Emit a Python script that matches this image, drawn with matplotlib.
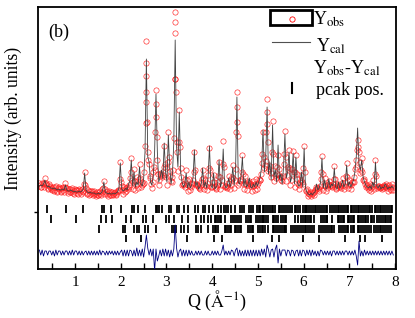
import numpy as np
import matplotlib
matplotlib.use("Agg")
import matplotlib.pyplot as plt
from matplotlib.patches import Rectangle

plt.rcParams['font.family'] = ['Liberation Serif', 'DejaVu Serif']
plt.rcParams['mathtext.fontset'] = 'stix'

# Q grid of the pattern (constant step)
q_start = 0.22
q_step = 0.03

# calculated profile, one row per 0.3 A^-1
y_cal = [
  26, 27, 26, 28, 32, 27, 25, 26, 24, 24,
  23, 24, 23, 22, 23, 22, 22, 23, 22, 27,
  22, 21, 21, 22, 21, 20, 21, 20, 20, 21,
  20, 21, 23, 39, 22, 20, 19, 20, 19, 19,
  19, 18, 18, 19, 18, 19, 21, 30, 20, 19,
  18, 19, 18, 18, 19, 18, 19, 20, 24, 49,
  23, 21, 22, 24, 22, 28, 31, 52, 26, 40,
  25, 30, 27, 45, 28, 26, 33, 60, 153, 55,
  50, 30, 27, 36, 60, 118, 60, 30, 35, 42,
  33, 69, 40, 30, 77, 45, 28, 38, 70, 172,
  65, 45, 100, 40, 30, 25, 28, 39, 24, 30,
  24, 27, 34, 62, 26, 30, 23, 25, 28, 44,
  25, 30, 24, 35, 66, 27, 24, 39, 23, 25,
  28, 52, 25, 30, 63, 28, 24, 26, 34, 25,
  30, 45, 27, 40, 115, 30, 28, 36, 55, 26,
  33, 25, 27, 34, 25, 24, 28, 25, 30, 26,
  30, 35, 45, 82, 40, 55, 105, 38, 50, 32,
  87, 35, 42, 30, 67, 33, 38, 28, 45, 78,
  34, 40, 60, 30, 35, 59, 28, 55, 30, 26,
  27, 40, 25, 64, 24, 20, 18, 17, 19, 17,
  19, 20, 28, 22, 24, 30, 54, 24, 32, 23,
  25, 33, 24, 28, 26, 44, 25, 23, 30, 24,
  26, 32, 25, 28, 47, 26, 30, 25, 28, 32,
  40, 55, 84, 48, 42, 52, 35, 30, 27, 25,
  24, 26, 23, 30, 25, 50, 26, 24, 27, 23,
  25, 24, 28, 26, 23, 25, 24, 26, 24,
]

# observed profile on the same grid
y_obs = [
  29, 25, 29, 25, 34, 29, 23, 28, 26, 22,
  25, 21, 26, 20, 25, 24, 20, 25, 20, 29,
  24, 19, 23, 20, 24, 18, 23, 22, 18, 23,
  18, 23, 21, 40, 24, 18, 21, 18, 21, 17,
  21, 16, 20, 17, 21, 17, 23, 31, 18, 21,
  16, 21, 17, 20, 17, 20, 17, 22, 22, 50,
  26, 18, 25, 21, 25, 25, 34, 54, 23, 43,
  22, 35, 24, 48, 25, 30, 29, 66, 171, 60,
  48, 34, 24, 40, 42, 122, 52, 27, 38, 39,
  37, 66, 44, 27, 80, 41, 31, 35, 74, 200,
  70, 41, 102, 44, 27, 28, 25, 42, 21, 33,
  22, 29, 32, 60, 28, 28, 25, 23, 30, 42,
  23, 32, 22, 37, 64, 25, 26, 37, 25, 23,
  30, 50, 23, 32, 71, 26, 26, 24, 36, 23,
  33, 47, 24, 43, 120, 27, 31, 33, 57, 23,
  36, 22, 30, 31, 28, 21, 31, 22, 33, 23,
  33, 32, 49, 80, 44, 51, 113, 41, 46, 35,
  91, 31, 46, 38, 57, 37, 35, 31, 48, 81,
  31, 43, 62, 27, 38, 61, 25, 57, 33, 23,
  30, 37, 28, 66, 21, 23, 16, 20, 16, 20,
  17, 22, 25, 24, 21, 33, 56, 22, 34, 21,
  27, 31, 26, 25, 28, 46, 23, 25, 28, 26,
  24, 34, 23, 30, 49, 24, 32, 23, 30, 30,
  43, 52, 72, 60, 39, 54, 32, 33, 25, 27,
  22, 28, 21, 32, 23, 52, 24, 26, 25, 25,
  23, 26, 26, 28, 21, 27, 22, 28, 22,
]

# observed points half a step later (q_start + q_step/2 + i*q_step)
y_obs_mid = [
  27, 25, 28, 29, 28, 27, 24, 25, 23, 24,
  22, 25, 21, 24, 23, 21, 24, 22, 25, 24,
  21, 23, 20, 22, 19, 21, 22, 19, 22, 20,
  22, 20, 28, 27, 19, 22, 17, 21, 19, 18,
  19, 18, 17, 20, 18, 20, 24, 23, 20, 18,
  19, 17, 20, 18, 19, 18, 20, 21, 33, 30,
  22, 23, 20, 24, 23, 27, 40, 32, 30, 31,
  27, 28, 33, 34, 27, 28, 40, 110, 90, 52,
  36, 28, 30, 45, 80, 75, 38, 32, 37, 35,
  45, 48, 35, 50, 55, 36, 30, 42, 133, 120,
  60, 70, 65, 35, 28, 27, 33, 32, 27, 26,
  25, 28, 40, 42, 27, 26, 24, 27, 33, 34,
  27, 26, 29, 44, 42, 25, 30, 30, 24, 27,
  36, 35, 27, 48, 45, 25, 25, 29, 29, 27,
  35, 34, 32, 80, 76, 29, 32, 40, 38, 28,
  28, 27, 29, 28, 26, 26, 27, 28, 27, 29,
  32, 38, 58, 55, 47, 80, 70, 43, 39, 60,
  58, 37, 34, 45, 43, 35, 32, 36, 58, 55,
  37, 45, 44, 32, 43, 40, 40, 38, 28, 27,
  32, 30, 44, 40, 22, 19, 18, 18, 18, 19,
  20, 23, 24, 23, 26, 40, 38, 27, 26, 24,
  28, 27, 27, 26, 33, 33, 24, 27, 26, 25,
  29, 27, 26, 36, 35, 27, 28, 27, 30, 35,
  45, 62, 65, 50, 42, 40, 31, 28, 26, 24,
  25, 24, 27, 26, 38, 36, 25, 26, 24, 25,
  24, 27, 25, 24, 26, 23, 25, 25,
]

# extra observed points on the flanks of the strongest reflections
flank_q = [2.56, 2.56, 2.56, 2.56, 3.19, 3.19, 3.19, 2.77, 2.77, 4.54, 4.54, 5.20, 5.20]
flank_y = [149, 136, 120, 89, 190, 179, 133, 108, 95, 105, 90, 100, 88]

diff_offset = -41

# Bragg peak positions, one list per phase row
peaks_1 = [0.39, 0.80, 1.17, 1.60, 1.63, 1.78, 2.00, 2.25, 2.28, 2.37, 2.52, 2.76,
           2.80, 2.83, 2.90, 3.05, 3.09, 3.24, 3.28, 3.39, 3.48, 3.63, 3.68, 3.80,
           3.85, 3.93, 4.02, 4.12, 4.20, 4.26, 4.30, 4.35, 4.40, 4.50, 4.60, 4.66,
           4.70, 4.80, 4.85, 4.90, 4.98, 5.02, 5.05, 5.10, 5.13, 5.17, 5.23, 5.26,
           5.30, 5.33, 5.38, 5.45, 5.49, 5.53, 5.58, 5.62, 5.65, 5.70, 5.75, 5.80,
           5.83, 5.87, 5.92, 5.98, 6.02, 6.05, 6.08, 6.12, 6.16, 6.20, 6.24, 6.28,
           6.32, 6.36, 6.40, 6.44, 6.48, 6.52, 6.57, 6.61, 6.66, 6.70, 6.74, 6.77,
           6.81, 6.86, 6.90, 6.94, 6.98, 7.03, 7.06, 7.10, 7.14, 7.18, 7.22, 7.26,
           7.30, 7.35, 7.38, 7.42, 7.46, 7.50, 7.55, 7.59, 7.62, 7.66, 7.70, 7.74,
           7.78, 7.82, 7.86, 7.90, 7.94]
peaks_2 = [0.48, 1.01, 1.57, 1.68, 1.81, 2.12, 2.23, 2.48, 2.55, 2.70, 2.99, 3.05,
           3.17, 3.33, 3.46, 3.65, 3.75, 3.83, 3.90, 3.97, 4.05, 4.09, 4.13, 4.17,
           4.20, 4.27, 4.42, 4.46, 4.50, 4.54, 4.58, 4.62, 4.74, 4.78, 4.82, 4.85,
           4.96, 5.00, 5.04, 5.08, 5.11, 5.14, 5.18, 5.21, 5.32, 5.36, 5.40, 5.43,
           5.51, 5.55, 5.59, 5.62, 5.80, 5.87, 5.94, 5.98, 6.02, 6.05, 6.09, 6.13,
           6.16, 6.23, 6.38, 6.42, 6.46, 6.50, 6.52, 6.63, 6.74, 6.78, 6.82, 6.86,
           6.89, 6.96, 7.00, 7.04, 7.08, 7.11, 7.18, 7.22, 7.26, 7.30, 7.34, 7.37,
           7.40, 7.47, 7.50, 7.54, 7.61, 7.65, 7.69, 7.73, 7.77, 7.81, 7.85, 7.88,
           7.91]
peaks_3 = [1.52, 2.05, 2.10, 2.30, 2.35, 2.40, 2.52, 2.59, 2.77, 3.12, 3.16, 3.20,
           3.32, 3.39, 3.46, 3.65, 3.68, 3.75, 3.90, 4.01, 4.05, 4.09, 4.12, 4.27,
           4.31, 4.35, 4.39, 4.42, 4.49, 4.53, 4.57, 4.61, 4.64, 4.78, 4.82, 4.86,
           4.89, 5.00, 5.04, 5.08, 5.12, 5.16, 5.21, 5.32, 5.36, 5.40, 5.44, 5.48,
           5.52, 5.56, 5.60, 5.62, 5.73, 5.77, 5.81, 5.85, 5.89, 5.94, 5.98, 6.02,
           6.06, 6.10, 6.14, 6.18, 6.23, 6.34, 6.38, 6.42, 6.46, 6.50, 6.55, 6.59,
           6.63, 6.67, 6.78, 6.82, 6.86, 6.90, 6.94, 6.98, 7.03, 7.07, 7.11, 7.18,
           7.22, 7.26, 7.30, 7.35, 7.39, 7.43, 7.47, 7.54, 7.58, 7.62, 7.66, 7.70,
           7.74, 7.78, 7.82, 7.86, 7.91]
peaks_4 = [2.11, 2.45, 3.45, 4.03, 4.22, 4.89, 5.31, 5.45, 5.98, 6.34, 6.90, 7.23,
           7.34, 7.72]

tick_rows = [(peaks_1, -1.3, 7), (peaks_2, -11.3, -3),
             (peaks_3, -21.3, -13), (peaks_4, -29.7, -23)]

y_cal = np.array(y_cal, dtype=float)
y_obs = np.array(y_obs, dtype=float)
q = q_start + q_step * np.arange(len(y_cal))
q_mid = q_start + q_step / 2 + q_step * np.arange(len(y_obs_mid))

fig = plt.figure(figsize=(4.15, 3.18), dpi=100)
ax = fig.add_axes([0.0916, 0.154, 0.8627, 0.824])

obs_style = dict(linestyle='none', marker='o', ms=3.8, mfc='none',
                 mec='#ff2020', mew=0.45, zorder=2)
ax.plot(q, y_obs, **obs_style)
ax.plot(q_mid, y_obs_mid, **obs_style)
ax.plot(flank_q, flank_y, **obs_style)
ax.plot(q, y_cal, color='#404040', lw=0.6, zorder=3)
ax.plot(q, y_obs - y_cal + diff_offset, color='#000080', lw=0.6, zorder=3)
for row, lo, hi in tick_rows:
  ax.vlines(row, lo, hi, color='k', lw=1.3)

ax.set_xlim(0.19, 8.02)
ax.set_ylim(-57, 205)
ax.set_xticks(range(1, 9))
ax.set_xticks(np.arange(0.5, 8.0, 1.0), minor=True)
ax.set_yticks([0])
ax.set_yticklabels([])
ax.tick_params(axis='x', which='both', direction='in', length=4, width=1,
               labelsize=11, pad=5)
ax.tick_params(axis='y', direction='out', length=3, width=1)
for s in ax.spines.values():
  s.set_linewidth(1.3)

ax.set_xlabel(r'Q ($\mathrm{\AA^{-1}}$)', fontsize=13, labelpad=0)
ax.set_ylabel('Intensity (arb. units)', fontsize=12.7)
ax.yaxis.set_label_coords(-0.045, 0.576)

ax.text(0.028, 0.905, '(b)', transform=ax.transAxes, fontsize=13, va='center')

# hand-made legend
tr = ax.transAxes
ax.add_patch(Rectangle((0.648, 0.931), 0.117, 0.058, transform=tr,
                       fill=False, lw=2, ec='k', zorder=5))
ax.plot([0.709], [0.954], transform=tr, marker='o', ms=3.8, mfc='none',
        mec='red', mew=0.6, clip_on=False)
ax.text(0.768, 0.954, r'Y$_{\rm obs}$', transform=tr, fontsize=13, va='center')
ax.plot([0.654, 0.760], [0.866, 0.866], transform=tr, color='#505050', lw=0.8)
ax.text(0.777, 0.851, r'Y$_{\rm cal}$', transform=tr, fontsize=13, va='center')
ax.text(0.767, 0.767, r'Y$_{\rm obs}$-Y$_{\rm cal}$', transform=tr, fontsize=13,
        va='center')
ax.plot([0.709, 0.709], [0.672, 0.71], transform=tr, color='k', lw=1.5)
ax.text(0.777, 0.683, 'pcak pos.', transform=tr, fontsize=13, va='center')

fig.savefig('out.png', dpi=100)
